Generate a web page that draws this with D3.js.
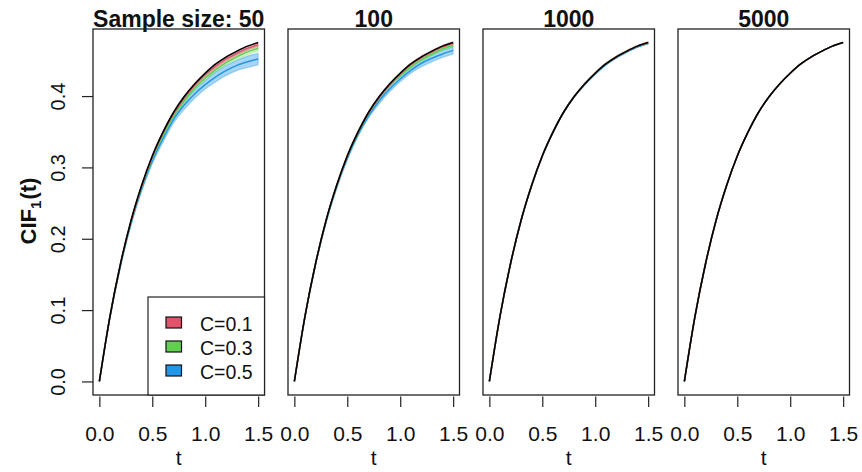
<!DOCTYPE html>
<html>
<head>
<meta charset="utf-8">
<script src="https://cdn.jsdelivr.net/npm/d3@7"></script>
<style>
  body { margin: 0; background: #fff; }
  svg { display: block; font-family: "Liberation Sans", Arial, sans-serif; }
</style>
</head>
<body>
<svg id="chart" width="862" height="472"></svg>
<script>
var tGrid = [0, 0.1, 0.2, 0.3, 0.4, 0.5, 0.6, 0.7, 0.8, 0.9, 1.0, 1.1, 1.2, 1.3, 1.4, 1.5];
// ware CIF (zwarte lijn)
var truthCIF = [0, 0.091, 0.165, 0.226, 0.275, 0.316, 0.349, 0.377, 0.399, 0.417, 0.432, 0.445, 0.455, 0.463, 0.470, 0.475];

var panelTitles = ["Sample size: 50", "100", "1000", "5000"];
var cLabels = ["C=0.1", "C=0.3", "C=0.5"];
var cColors = ["#DF536B", "#61D04F", "#2297E6"];

// schattingen per steekproefgrootte, volgorde C=0.1, C=0.3, C=0.5
var est50 = [
    [0, 0.091, 0.165, 0.225, 0.274, 0.315, 0.348, 0.375, 0.397, 0.415, 0.430, 0.442, 0.452, 0.460, 0.467, 0.472],
    [0, 0.091, 0.164, 0.224, 0.273, 0.313, 0.345, 0.372, 0.393, 0.411, 0.425, 0.437, 0.447, 0.455, 0.462, 0.467],
    [0, 0.090, 0.163, 0.222, 0.270, 0.309, 0.340, 0.367, 0.387, 0.403, 0.416, 0.427, 0.436, 0.443, 0.448, 0.452]
];
var est100 = [
    [0, 0.091, 0.165, 0.226, 0.275, 0.316, 0.349, 0.376, 0.398, 0.416, 0.431, 0.444, 0.454, 0.462, 0.469, 0.474],
    [0, 0.091, 0.165, 0.225, 0.274, 0.315, 0.348, 0.375, 0.397, 0.415, 0.429, 0.441, 0.451, 0.459, 0.466, 0.471],
    [0, 0.091, 0.164, 0.224, 0.273, 0.313, 0.346, 0.372, 0.393, 0.410, 0.424, 0.436, 0.446, 0.453, 0.459, 0.464]
];
var est1000 = [
    [0, 0.091, 0.165, 0.226, 0.275, 0.316, 0.349, 0.377, 0.399, 0.417, 0.432, 0.445, 0.455, 0.463, 0.470, 0.475],
    [0, 0.091, 0.165, 0.226, 0.275, 0.316, 0.349, 0.377, 0.399, 0.417, 0.432, 0.445, 0.455, 0.463, 0.470, 0.474],
    [0, 0.091, 0.165, 0.226, 0.275, 0.316, 0.349, 0.377, 0.399, 0.416, 0.431, 0.444, 0.454, 0.462, 0.469, 0.474]
];
var est5000 = [
    [0, 0.091, 0.165, 0.226, 0.275, 0.316, 0.349, 0.377, 0.399, 0.417, 0.432, 0.445, 0.455, 0.463, 0.470, 0.475],
    [0, 0.091, 0.165, 0.226, 0.275, 0.316, 0.349, 0.377, 0.399, 0.417, 0.432, 0.445, 0.455, 0.463, 0.470, 0.475],
    [0, 0.091, 0.165, 0.226, 0.275, 0.316, 0.349, 0.377, 0.399, 0.417, 0.432, 0.445, 0.455, 0.463, 0.470, 0.475]
];
// halve breedte van de banden
var band50 = [
    [0, 0.001, 0.001, 0.002, 0.002, 0.002, 0.002, 0.002, 0.003, 0.003, 0.003, 0.003, 0.003, 0.003, 0.003, 0.003],
    [0, 0.001, 0.001, 0.002, 0.002, 0.002, 0.002, 0.003, 0.003, 0.003, 0.003, 0.003, 0.003, 0.004, 0.004, 0.004],
    [0, 0.002, 0.003, 0.003, 0.004, 0.004, 0.005, 0.005, 0.006, 0.006, 0.006, 0.007, 0.007, 0.007, 0.008, 0.008]
];
var band100 = [
    [0, 0.001, 0.001, 0.001, 0.001, 0.002, 0.002, 0.002, 0.002, 0.002, 0.002, 0.002, 0.002, 0.002, 0.002, 0.002],
    [0, 0.001, 0.001, 0.001, 0.001, 0.002, 0.002, 0.002, 0.002, 0.002, 0.002, 0.002, 0.002, 0.002, 0.002, 0.002],
    [0, 0.001, 0.002, 0.002, 0.003, 0.003, 0.003, 0.003, 0.004, 0.004, 0.004, 0.004, 0.005, 0.005, 0.005, 0.005]
];
var band1000 = [
    [0, 0, 0.001, 0.001, 0.001, 0.001, 0.001, 0.001, 0.001, 0.001, 0.001, 0.001, 0.001, 0.001, 0.001, 0.001],
    [0, 0, 0.001, 0.001, 0.001, 0.001, 0.001, 0.001, 0.001, 0.001, 0.001, 0.001, 0.001, 0.001, 0.001, 0.001],
    [0, 0, 0.001, 0.001, 0.001, 0.001, 0.001, 0.001, 0.001, 0.001, 0.001, 0.001, 0.001, 0.001, 0.001, 0.001]
];
var band5000 = [
    [0, 0, 0, 0, 0, 0, 0, 0, 0, 0, 0, 0, 0, 0, 0, 0],
    [0, 0, 0, 0, 0, 0, 0, 0, 0, 0, 0, 0, 0, 0, 0, 0],
    [0, 0, 0, 0, 0, 0, 0, 0, 0, 0, 0, 0, 0, 0, 0, 0]
];

var xTicks = [0, 0.5, 1.0, 1.5];
var yTicks = [0, 0.1, 0.2, 0.3, 0.4];

var estimates = [est50, est100, est1000, est5000];
var bands = [band50, band100, band1000, band5000];

var svg = d3.select("#chart");
svg.append("rect").attr("width", 862).attr("height", 472).attr("fill", "#fff");

var panelLeft = [93, 288, 483, 678];
var panelW = 171.5;
var plotTop = 29, plotBottom = 395;

// y-schaal is voor alle panelen gelijk (R-stijl 4% extra ruimte)
var y = d3.scaleLinear().domain([-0.019, 0.494]).range([plotBottom, plotTop]);

panelTitles.forEach(function(title, p) {
    let left = panelLeft[p];
    let x = d3.scaleLinear().domain([-0.06, 1.56]).range([left, left + panelW]);
    let g = svg.append("g");

    let clipId = "clip" + p;
    svg.append("clipPath").attr("id", clipId)
        .append("rect").attr("x", left).attr("y", plotTop).attr("width", panelW).attr("height", plotBottom - plotTop);
    let plot = g.append("g").attr("clip-path", "url(#" + clipId + ")");

    let rows = function(k) {
        return tGrid.map(function(t, i) {
            return { t: t, v: estimates[p][k][i], hw: bands[p][k][i] };
        });
    };

    // eerst de banden
    [2, 1, 0].forEach(function(k) {
        let area = d3.area()
            .x(function(d) { return x(d.t); })
            .y0(function(d) { return y(d.v - d.hw); })
            .y1(function(d) { return y(d.v + d.hw); })
            .curve(d3.curveMonotoneX);
        plot.append("path").datum(rows(k))
            .attr("d", area)
            .attr("fill", cColors[k])
            .attr("fill-opacity", k == 2 ? 0.4 : 0.3)
            .attr("stroke", cColors[k])
            .attr("stroke-opacity", k == 2 ? 0.35 : 0.25)
            .attr("stroke-width", 1.2);
    });

    // dan de geschatte lijnen
    [2, 1, 0].forEach(function(k) {
        let line = d3.line()
            .x(function(d) { return x(d.t); })
            .y(function(d) { return y(d.v); })
            .curve(d3.curveMonotoneX);
        plot.append("path").datum(rows(k))
            .attr("d", line)
            .attr("fill", "none")
            .attr("stroke", cColors[k])
            .attr("stroke-width", 1.5);
    });

    // ware curve bovenop
    let truthLine = d3.line()
        .x(function(d, i) { return x(tGrid[i]); })
        .y(function(d) { return y(d); })
        .curve(d3.curveMonotoneX);
    plot.append("path").datum(truthCIF)
        .attr("d", truthLine)
        .attr("fill", "none")
        .attr("stroke", "#000")
        .attr("stroke-width", 1.6);

    // x-as
    let xAxis = g.append("g")
        .attr("transform", "translate(0," + (plotBottom + 1.5) + ")")
        .call(d3.axisBottom(x).tickValues(xTicks).tickFormat(d3.format(".1f"))
            .tickSize(10.5).tickSizeOuter(0).tickPadding(19.5));
    xAxis.select(".domain").remove();
    xAxis.selectAll("line").attr("stroke", "#222").attr("stroke-width", 1.2);
    xAxis.selectAll("text").attr("fill", "#111").style("font-size", "21px")
        .style("font-family", "Liberation Sans, Arial, sans-serif");

    g.append("text")
        .attr("x", left + panelW / 2).attr("y", 465)
        .attr("text-anchor", "middle")
        .style("font-size", "21px").attr("fill", "#111")
        .text("t");

    // titel
    g.append("text")
        .attr("x", left + panelW / 2).attr("y", 26.5)
        .attr("text-anchor", "middle")
        .style("font-size", "23px").style("font-weight", "bold").attr("fill", "#111")
        .text(title);

    // kader
    g.append("rect")
        .attr("x", left).attr("y", plotTop)
        .attr("width", panelW).attr("height", plotBottom - plotTop)
        .attr("fill", "none").attr("stroke", "#222").attr("stroke-width", 1.3);

    if (p == 0) {
        // y-as alleen bij het eerste paneel
        let yAxis = g.append("g")
            .attr("transform", "translate(" + left + ",0)")
            .call(d3.axisLeft(y).tickValues(yTicks).tickFormat(d3.format(".1f"))
                .tickSize(11).tickSizeOuter(0));
        yAxis.select(".domain").remove();
        yAxis.selectAll("line").attr("stroke", "#222").attr("stroke-width", 1.2);
        yAxis.selectAll("text")
            .attr("x", null).attr("dy", null)
            .attr("transform", "translate(-28,0) rotate(-90)")
            .attr("text-anchor", "middle")
            .attr("fill", "#111").style("font-size", "20px")
            .style("font-family", "Liberation Sans, Arial, sans-serif");

        let yLab = g.append("text")
            .attr("transform", "translate(36,211) rotate(-90)")
            .attr("text-anchor", "middle")
            .style("font-size", "22px").style("font-weight", "bold").attr("fill", "#111");
        yLab.append("tspan").text("CIF");
        yLab.append("tspan").attr("dy", 5).style("font-size", "15px").text("1");
        yLab.append("tspan").attr("dy", -5).attr("dx", 1).text("(t)");

        // legenda
        let lg = g.append("g");
        lg.append("rect")
            .attr("x", 148).attr("y", 297)
            .attr("width", left + panelW - 148).attr("height", plotBottom - 297)
            .attr("fill", "#fff").attr("stroke", "#222").attr("stroke-width", 1.2);
        cLabels.forEach(function(lab, k) {
            let cy = 322.5 + k * 24;
            lg.append("rect")
                .attr("x", 166).attr("y", cy - 5.5)
                .attr("width", 15.5).attr("height", 11)
                .attr("fill", cColors[k]).attr("stroke", "#111").attr("stroke-width", 1.2);
            lg.append("text")
                .attr("x", 200).attr("y", cy + 8)
                .style("font-size", "19.5px").attr("fill", "#111")
                .text(lab);
        });
    }
});
</script>
</body>
</html>
